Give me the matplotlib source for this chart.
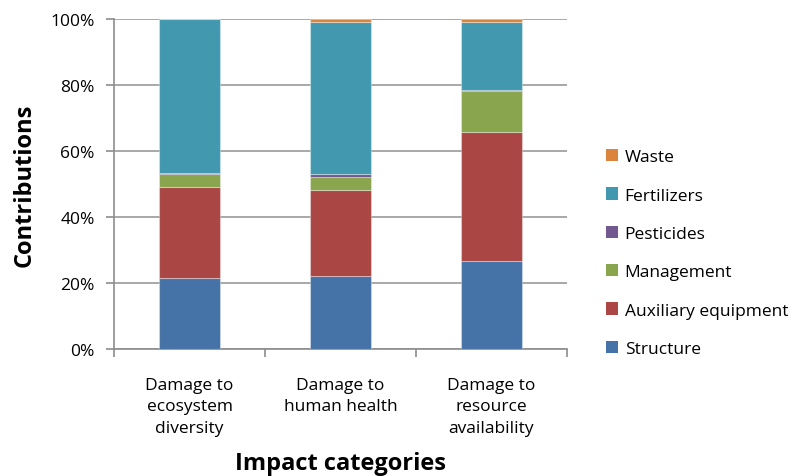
import matplotlib
matplotlib.use("Agg")
import matplotlib.pyplot as plt
from matplotlib.patches import Patch
import numpy as np

categories = ["Damage to\necosystem\ndiversity", "Damage to\nhuman health", "Damage to\nresource\navailability"]
series_names = ["Structure", "Auxiliary equipment", "Management", "Pesticides", "Fertilizers", "Waste"]
structure = [21.6, 22.1, 26.8]
auxiliary = [27.4, 26.0, 38.9]
management = [4.1, 3.9, 12.5]
pesticides = [0.3, 1.0, 0.3]
fertilizers = [46.5, 46.2, 20.7]
waste = [0.1, 0.8, 0.8]
yticks = [0, 20, 40, 60, 80, 100]
ytick_labels = ["0%", "20%", "40%", "60%", "80%", "100%"]

colors = ["#4572A7", "#AA4643", "#89A54E", "#71588F", "#4198AF", "#DB843D"]
series = [structure, auxiliary, management, pesticides, fertilizers, waste]

plt.rcParams['font.family'] = ['Open Sans', 'DejaVu Sans']

fig = plt.figure(figsize=(7.92, 4.77), dpi=100)
ax = fig.add_axes([114/792, 1 - 350/477, (567 - 114)/792, (350 - 20)/477])

x = np.arange(len(categories))
bottom = np.zeros(len(categories))
for vals, col in zip(series, colors):
    ax.bar(x, vals, width=0.41, bottom=bottom, color=col,
           edgecolor=(1, 1, 1, 0.35), linewidth=0.8, zorder=3)
    bottom += np.array(vals)

ax.set_xlim(-0.5, len(categories) - 0.5)
ax.set_ylim(0, 100)
ax.set_yticks(yticks)
ax.set_yticklabels(ytick_labels, fontsize=12.5)
ax.yaxis.grid(True, color="#9a9a9a", linewidth=1.2, zorder=0)

# category labels centred under bars, tick marks at boundaries
ax.set_xticks(np.arange(-0.5, len(categories)), minor=False)
ax.set_xticklabels([])
ax.set_xticks(x, minor=True)
ax.set_xticklabels(categories, minor=True, fontsize=12.5, linespacing=1.45)
ax.tick_params(axis="x", which="minor", length=0, pad=20)
ax.tick_params(axis="x", which="major", length=6, color="#8c8c8c", width=1.2)
ax.tick_params(axis="y", length=6, color="#8c8c8c", width=1.2, pad=8)

for side in ["top", "right"]:
    ax.spines[side].set_visible(False)
for side in ["left", "bottom"]:
    ax.spines[side].set_color("#8c8c8c")
    ax.spines[side].set_linewidth(1.2)

ax.set_ylabel("Contributions", fontsize=17, fontweight="bold", labelpad=10)
ax.set_xlabel("Impact categories", fontsize=17, fontweight="bold", labelpad=11)

handles = [Patch(facecolor=c, edgecolor="none") for c in colors][::-1]
labels = series_names[::-1]
leg = fig.legend(handles, labels, loc="center left", bbox_to_anchor=(590/792, 1 - 254/477),
                 frameon=False, fontsize=12.5, handlelength=0.7, handleheight=0.7,
                 handletextpad=0.4, labelspacing=1.28)

fig.savefig("out.png", dpi=100)
